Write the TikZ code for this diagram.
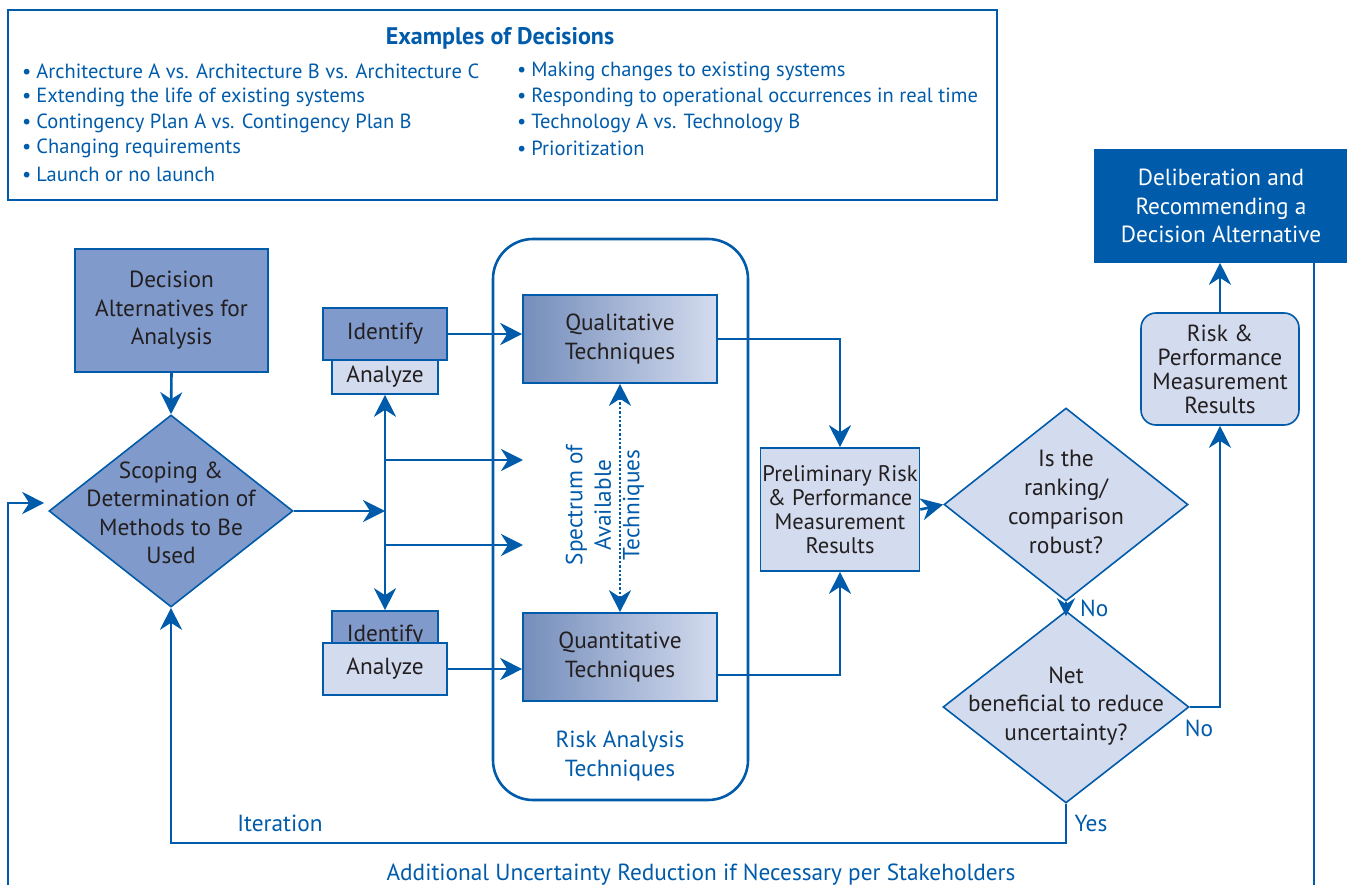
\documentclass[tikz,border=0pt]{standalone}
\usepackage{fontspec}
\setmainfont{PT Sans}
\usetikzlibrary{shapes.geometric,arrows.meta,calc}
\definecolor{nblue}{HTML}{005BAA}
\definecolor{dfill}{HTML}{7F9ACB}
\definecolor{lfill}{HTML}{D3DBEE}
\definecolor{txt}{HTML}{231F20}
\begin{document}
\begin{tikzpicture}[x=1pt,y=-1pt,
  conn/.style={draw=nblue, line width=2.6pt},
  arr/.style={conn, -{Stealth[length=22pt,width=22pt,inset=7pt]}},
  sarr/.style={conn, -{Stealth[length=18pt,width=18pt,inset=6pt]}},
  boxbase/.style={draw=nblue, line width=1.6pt, inner sep=0pt, text=txt, align=center, font=\fontsize{23.3}{28.5}\selectfont},
  darkbox/.style={boxbase, fill=dfill},
  lightbox/.style={boxbase, fill=lfill},
  shadebox/.style={boxbase, left color=dfill!92!black, right color=lfill},
  dia/.style={diamond, draw=nblue, line width=1.6pt, inner sep=0pt},
  body/.style={text=txt, align=center, font=\fontsize{23.3}{28.5}\selectfont, inner sep=0pt},
  blab/.style={text=nblue, align=center, font=\fontsize{23.3}{28.5}\selectfont, inner sep=0pt},
  item/.style={text=nblue, anchor=west, inner sep=0pt, font=\fontsize{20.5}{24}\selectfont}
]
\useasboundingbox (0,0) rectangle (1347,885);
\clip (0,0) rectangle (1347,885);

% Examples box
\node[draw=nblue, line width=2.6pt, minimum width=989pt, minimum height=190pt, inner sep=0pt] (examples) at (502.5,105) {};
\node[text=nblue, font=\bfseries\fontsize{24}{28}\selectfont, inner sep=0pt] (extitle) at (500,38) {Examples of Decisions};
\node[item] (i1) at (22,71) {•\hspace{5pt}Architecture A vs. Architecture B vs. Architecture C};
\node[item] (i2) at (22,97) {•\hspace{5pt}Extending the life of existing systems};
\node[item] (i3) at (22,123) {•\hspace{5pt}Contingency Plan A vs. Contingency Plan B};
\node[item] (i4) at (22,148) {•\hspace{5pt}Changing requirements};
\node[item] (i5) at (22,174) {•\hspace{5pt}Launch or no launch};
\node[item] (j1) at (517,71) {•\hspace{5pt}Making changes to existing systems};
\node[item] (j2) at (517,97) {•\hspace{5pt}Responding to operational occurrences in real time};
\node[item] (j3) at (517,123) {•\hspace{5pt}Technology A vs. Technology B};
\node[item] (j4) at (517,148) {•\hspace{5pt}Prioritization};

% Risk analysis techniques container
\draw[conn, rounded corners=40pt] (493,239) rectangle (748,800);
\node[blab] (ratlabel) at (620,756) {Risk Analysis\\Techniques};

% Left part
\node[darkbox, minimum width=193pt, minimum height=123pt] (alt) at (171.5,310.5) {Decision\\Alternatives for\\Analysis};
\node[dia, fill=dfill, minimum width=244pt, minimum height=192pt] (scop) at (171,511) {};
\node[body] (scoptext) at (171,513) {Scoping \&\\Determination of\\Methods to Be\\Used};

\node[darkbox, minimum width=124pt, minimum height=52pt] (id1) at (385,334) {Identify};
\node[lightbox, minimum width=106pt, minimum height=34pt] (an1) at (385,377) {Analyze};
\node[darkbox, minimum width=106pt, minimum height=34pt] (id2) at (385,628) {};
\node[body, anchor=base] (id2text) at (385,641) {Identify};
\node[lightbox, minimum width=124pt, minimum height=52pt] (an2) at (385,669) {Analyze};

\node[shadebox, minimum width=194pt, minimum height=88pt] (qual) at (620,339) {Qualitative\\Techniques};
\node[shadebox, minimum width=194pt, minimum height=88pt] (quant) at (620,657) {Quantitative\\Techniques};

% Right part
\node[lightbox, minimum width=159pt, minimum height=123pt, font=\fontsize{22.5}{24}\selectfont] (prelim) at (840,509.5) {Preliminary Risk\\\& Performance\\Measurement\\Results};
\node[dia, fill=lfill, minimum width=244pt, minimum height=193pt] (robust) at (1066,504.5) {};
\node[body, font=\fontsize{23.5}{29}\selectfont] (robusttext) at (1066,502) {Is the\\ranking/\\comparison\\robust?};
\node[dia, fill=lfill, minimum width=246pt, minimum height=192pt] (net) at (1066,707) {};
\node[body] (nettext) at (1066,706) {Net\\beneficial to reduce\\uncertainty?};
\node[lightbox, rounded corners=15pt, minimum width=158pt, minimum height=112pt, font=\fontsize{23.3}{24}\selectfont] (risk) at (1220,369) {Risk \&\\Performance\\Measurement\\Results};
\node[boxbase, fill=nblue, draw=nblue, text=white, minimum width=252pt, minimum height=112pt] (delib) at (1221,206) {Deliberation and\\Recommending a\\Decision Alternative};

% Connectors
\coordinate (J) at (385,511);
\coordinate (b1) at (385,460);
\coordinate (b1e) at (523,460);
\coordinate (b2) at (385,545);
\coordinate (b2e) at (523,545);
\draw[arr] (alt.south) -- (scop.north);
\draw[arr] (scop.east) -- (J);
\draw[arr] (J) -- (an1.south);
\draw[arr] (J) -- (id2.north);
\draw[arr] (b1) -- (b1e);
\draw[arr] (b2) -- (b2e);
\draw[arr] (id1.east) -- (id1.east -| qual.west);
\draw[arr] (an2.east) -- (an2.east -| quant.west);
\draw[draw=nblue, line width=2.4pt, dotted, {Stealth[length=22pt,width=22pt,inset=7pt]}-{Stealth[length=22pt,width=22pt,inset=7pt]}] (qual.south) -- (quant.north);
\node[blab, rotate=90] (spectrum) at (605,505) {Spectrum of\\Available\\Techniques};

\draw[arr] (qual.east) -| (prelim.north);
\draw[arr] ([yshift=-18pt]quant.east) -| (prelim.south);
\draw[arr] (prelim.east) -- (robust.west);
\draw[sarr] (robust.south) -- ([yshift=-6pt]net.north);
\node[blab, anchor=west] (no1) at (1080,608) {No};
\draw[arr] (net.east) -| (risk.south);
\node[blab] (no2) at (1199,728) {No};
\draw[arr] (risk.north) -- (risk.north |- delib.south);

\coordinate (yesturn) at (1066,843);
\draw[arr] (net.south) -- (yesturn) -| (scop.south);
\node[blab] (yes) at (1091,823) {Yes};
\node[blab] (iter) at (280,823) {Iteration};

\coordinate (rtop) at (1314,262);
\coordinate (rdown) at (1314,905);
\coordinate (ldown) at (8,905);
\coordinate (lup) at (8,503);
\draw[arr] (rtop) -- (rdown) -- (ldown) -- (lup) -- ([xshift=-4pt,yshift=8pt]scop.west);
\node[blab] (addl) at (701,875) {Additional Uncertainty Reduction if Necessary per Stakeholders};
\end{tikzpicture}
\end{document}
